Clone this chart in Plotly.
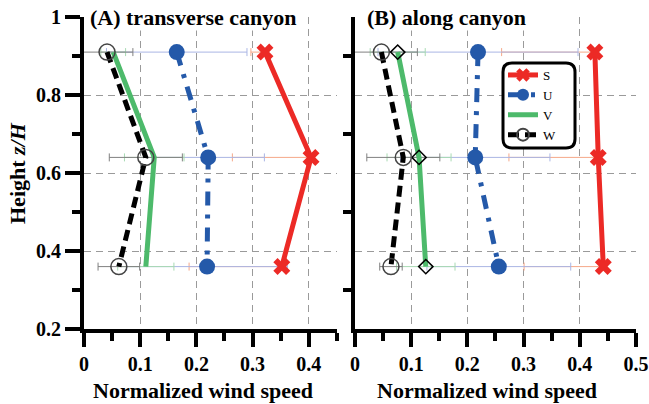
import plotly.graph_objects as go

# ---------------- data ----------------
heights = [0.91, 0.64, 0.36]

A_S = [0.322, 0.404, 0.352]
A_U = [0.165, 0.221, 0.219]
A_V = [0.052, 0.125, 0.110]
A_W = [0.041, 0.110, 0.062]

B_S = [0.427, 0.433, 0.442]
B_U = [0.219, 0.214, 0.256]
B_V = [0.076, 0.114, 0.126]
B_W = [0.047, 0.086, 0.064]

# horizontal error bars
A_S_errm = [0.025, 0.140, 0.165]
A_U_err = [0.125, 0.100, 0.143]
A_V_err = [0.022, 0.053, 0.050]
A_W_err = [0.046, 0.065, 0.037]

B_S_errm = [0.166, 0.159, 0.141]
B_U_err = [0.178, 0.133, 0.128]
B_V_err = [0.049, 0.057, 0.052]
B_W_err = [0.064, 0.065, 0.020]

series_names = ["S", "U", "V", "W"]
x_ticks_A = [0, 0.1, 0.2, 0.3, 0.4]
x_ticks_B = [0, 0.1, 0.2, 0.3, 0.4, 0.5]
y_ticks = [0.2, 0.4, 0.6, 0.8, 1.0]
y_ticktext = ["0.2", "0.4", "0.6", "0.8", "1"]

# ---------------- styles ----------------
RED, BLUE, GREEN, BLACK = "#ec2a26", "#2459a9", "#4dba6b", "#000000"
ERR = {"S": "#f5a889", "U": "#aab6e4", "V": "#a8dab3", "W": "#808080"}
FONT = "'Liberation Serif', 'Times New Roman', 'DejaVu Serif', serif"

fig = go.Figure()

def err_trace(x, y, err, name, xa, ya, minus=None):
    if minus is None:
        ex = dict(type="data", array=err, symmetric=True, color=ERR[name], thickness=1, width=4)
    else:
        ex = dict(type="data", array=[0] * len(minus), arrayminus=minus, symmetric=False,
                  color=ERR[name], thickness=1, width=4)
    fig.add_trace(go.Scatter(x=x, y=y, mode="markers", marker=dict(size=1, color="rgba(0,0,0,0)"),
                             error_x=ex, showlegend=False, hoverinfo="skip", xaxis=xa, yaxis=ya))

for xa, ya, S, U, V, W, Se, Ue, Ve, We in [
    ("x", "y", A_S, A_U, A_V, A_W, A_S_errm, A_U_err, A_V_err, A_W_err),
    ("x2", "y2", B_S, B_U, B_V, B_W, B_S_errm, B_U_err, B_V_err, B_W_err),
]:
    err_trace(S, heights, None, "S", xa, ya, minus=Se)
    err_trace(U, heights, Ue, "U", xa, ya)
    err_trace(V, heights, Ve, "V", xa, ya)
    err_trace(W, heights, We, "W", xa, ya)

for xa, ya, S, U, V, W, leg in [
    ("x", "y", A_S, A_U, A_V, A_W, True),
    ("x2", "y2", B_S, B_U, B_V, B_W, False),
]:
    fig.add_trace(go.Scatter(x=S, y=heights, name="S", mode="lines+markers",
                             line=dict(color=RED, width=5),
                             marker=dict(symbol="x", size=15, color=RED, line=dict(width=0)),
                             showlegend=leg, xaxis=xa, yaxis=ya))
    fig.add_trace(go.Scatter(x=U, y=heights, name="U", mode="lines+markers",
                             line=dict(color=BLUE, width=5, dash="14px,9px,4px,9px"),
                             marker=dict(symbol="circle", size=16, color=BLUE),
                             showlegend=leg, xaxis=xa, yaxis=ya))
    if leg:
        fig.add_trace(go.Scatter(x=V, y=heights, name="V", mode="lines",
                                 line=dict(color=GREEN, width=5),
                                 showlegend=leg, xaxis=xa, yaxis=ya))
    else:
        fig.add_trace(go.Scatter(x=V, y=heights, name="V", mode="lines+markers",
                                 line=dict(color=GREEN, width=5),
                                 marker=dict(symbol="diamond-open", size=11, color=BLACK,
                                             line=dict(width=1.5, color=BLACK)),
                                 showlegend=leg, xaxis=xa, yaxis=ya))
    fig.add_trace(go.Scatter(x=W, y=heights, name="W", mode="lines+markers",
                             line=dict(color=BLACK, width=5, dash="11px,6px"),
                             marker=dict(symbol="circle-open", size=16, color="#444444",
                                         line=dict(width=1.5, color="#444444")),
                             showlegend=leg, xaxis=xa, yaxis=ya))

W_PX, H_PX = 649, 404
def px(xp):
    return xp / W_PX
def py(yp):
    return (H_PX - yp) / H_PX

tickfont = dict(family=FONT, size=20, color="black", weight="bold")
common_x = dict(showline=True, linewidth=4, linecolor="black", ticks="outside", ticklen=14,
                tickwidth=4, tickcolor="black", showgrid=True, gridcolor="#9a9a9a", gridwidth=1,
                griddash="7px,5px", zeroline=False, tickfont=tickfont, automargin=False,
                minor=dict(dtick=0.05, tick0=0, ticks="outside", ticklen=8, tickwidth=4,
                           tickcolor="black", showgrid=False))
common_y = dict(showline=True, linewidth=4, linecolor="black", range=[0.2, 1.0],
                domain=[py(329), py(17)], showgrid=True, gridcolor="#9a9a9a", gridwidth=1,
                griddash="7px,5px", zeroline=False, tickfont=tickfont, tickmode="array",
                tickvals=y_ticks, ticktext=y_ticktext, automargin=False,
                minor=dict(tickvals=[0.3, 0.5, 0.7, 0.9], ticks="outside", ticklen=8, tickwidth=4,
                           tickcolor="black", showgrid=False))

fig.update_layout(
    width=W_PX, height=H_PX,
    autosize=False,
    margin=dict(l=0, r=0, t=0, b=0, pad=0, autoexpand=False),
    paper_bgcolor="white", plot_bgcolor="white",
    xaxis=dict(common_x, domain=[px(84), px(337)], range=[0, 0.4502], anchor="y",
               tickmode="array", tickvals=x_ticks_A),
    yaxis=dict(common_y, anchor="x", ticks="outside", ticklen=15, tickwidth=4, tickcolor="black"),
    xaxis2=dict(common_x, domain=[px(355), px(636)], range=[0, 0.5002], anchor="y2",
                tickmode="array", tickvals=x_ticks_B),
    yaxis2=dict(common_y, anchor="x2", ticks="", showticklabels=False),
    legend=dict(x=px(503), y=py(60), xanchor="left", yanchor="top",
                bgcolor="rgba(0,0,0,0)", borderwidth=0,
                font=dict(family=FONT, size=13, color="black"),
                tracegroupgap=0, itemwidth=30, itemsizing="constant"),
    showlegend=True,
)

# rounded legend frame
x0, x1, y0, y1 = px(503), px(575), py(148), py(63)
rx, ry = 9 / W_PX, 9 / H_PX
path = (f"M {x0+rx},{y0} L {x1-rx},{y0} Q {x1},{y0} {x1},{y0+ry} L {x1},{y1-ry} "
        f"Q {x1},{y1} {x1-rx},{y1} L {x0+rx},{y1} Q {x0},{y1} {x0},{y1-ry} "
        f"L {x0},{y0+ry} Q {x0},{y0} {x0+rx},{y0} Z")
fig.add_shape(type="path", path=path, xref="paper", yref="paper", layer="above",
              fillcolor="white", line=dict(color="black", width=3))

title_font = dict(family=FONT, size=22, color="black", weight="bold")
fig.add_annotation(text="(A) transverse canyon", x=px(89), y=py(17), xref="paper", yref="paper",
                   xanchor="left", yanchor="middle", showarrow=False, font=title_font,
                   bgcolor="white", borderpad=0)
fig.add_annotation(text="(B) along canyon", x=px(366), y=py(17), xref="paper", yref="paper",
                   xanchor="left", yanchor="middle", showarrow=False, font=title_font,
                   bgcolor="white", borderpad=0)
fig.add_annotation(text="Normalized wind speed", x=px(203), y=py(390), xref="paper", yref="paper",
                   xanchor="center", yanchor="middle", showarrow=False, font=title_font)
fig.add_annotation(text="Normalized wind speed", x=px(487), y=py(390), xref="paper", yref="paper",
                   xanchor="center", yanchor="middle", showarrow=False, font=title_font)
fig.add_annotation(text="Height <i>z/H</i>", x=px(17), y=py(173), xref="paper", yref="paper",
                   xanchor="center", yanchor="middle", showarrow=False, font=title_font,
                   textangle=-90)

fig.write_html("out.html",
               config={"displayModeBar": False},
               post_script="document.body.style.margin='0';document.body.style.padding='0';"
                           "document.body.style.overflow='hidden';")
